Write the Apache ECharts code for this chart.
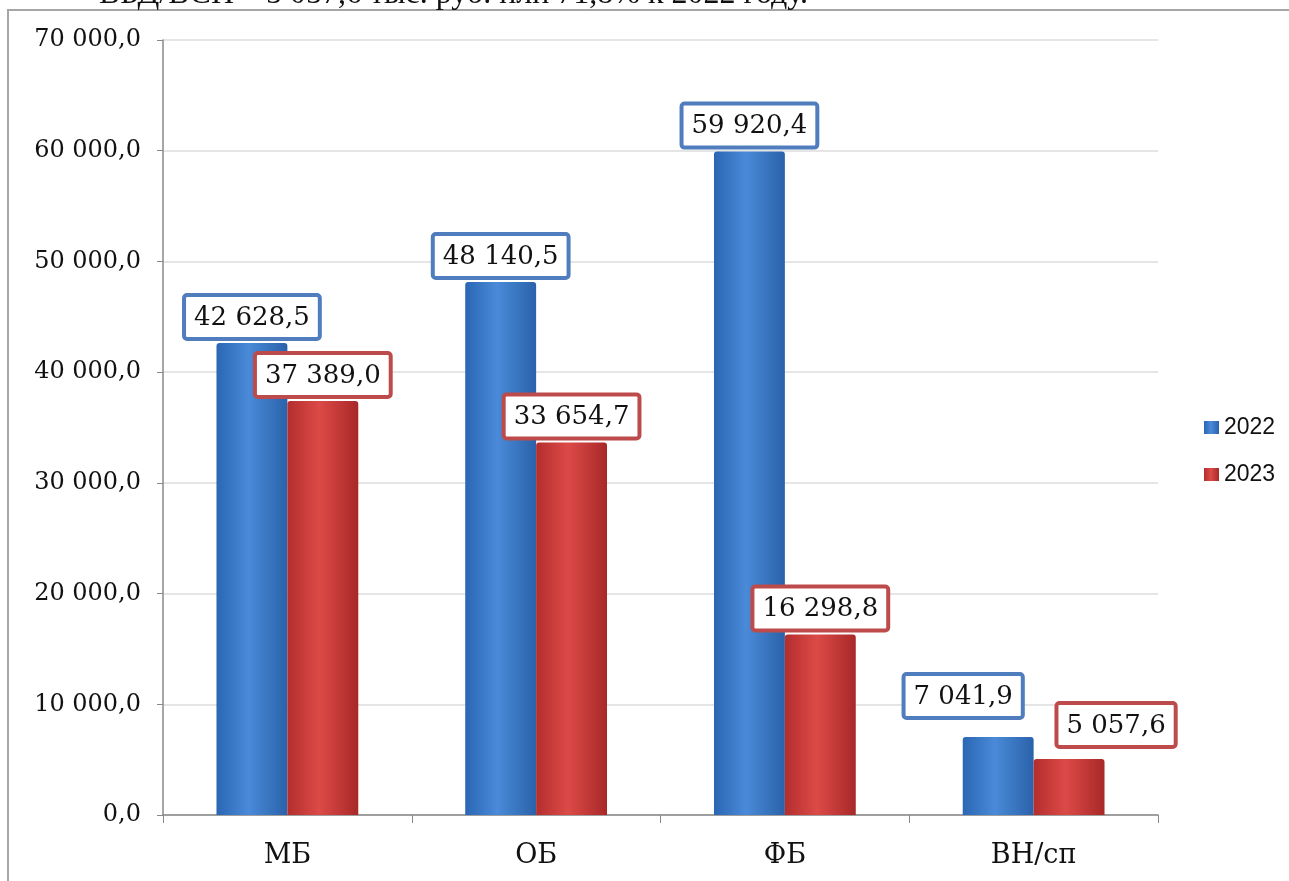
<!DOCTYPE html>
<html>
<head>
<meta charset="utf-8">
<script src="https://cdn.jsdelivr.net/npm/echarts@6/dist/echarts.min.js"></script>
<style>
html,body{margin:0;padding:0;background:#fff;}
#c{width:1289px;height:881px;}
</style>
</head>
<body>
<div id="c"></div>
<script>
const categories = ['МБ', 'ОБ', 'ФБ', 'ВН/сп'];
const seriesNames = ['2022', '2023'];
const values2022 = [42628.5, 48140.5, 59920.4, 7041.9];
const values2023 = [37389.0, 33654.7, 16298.8, 5057.6];
const yTicks = [0, 10000, 20000, 30000, 40000, 50000, 60000, 70000];
const headerText = 'ВБД/ВСП – 5 057,6 тыс. руб. или 71,8% к 2022 году.';

function fmt(v) {
  const s = Number(v).toFixed(1);
  const parts = s.split('.');
  const intPart = parts[0].replace(/\B(?=(\d{3})+(?!\d))/g, ' ');
  return intPart + ',' + parts[1];
}

const serif = '"DejaVu Serif", "Liberation Serif", serif';
const blueBorder = '#4f7dbd';
const redBorder = '#be4b4b';

function labelBase(border) {
  return {
    show: true,
    position: 'top',
    distance: 6,
    formatter: p => fmt(p.value),
    fontFamily: serif,
    fontSize: 26,
    color: '#111',
    backgroundColor: '#fff',
    borderColor: border,
    borderWidth: 4,
    borderRadius: 1,
    padding: [8, 8, 6, 8]
  };
}

const blueGrad = new echarts.graphic.LinearGradient(0, 0, 1, 0, [
  {offset: 0, color: '#2a66b3'},
  {offset: 0.45, color: '#4a8ad8'},
  {offset: 1, color: '#2a62aa'}
]);
const redGrad = new echarts.graphic.LinearGradient(0, 0, 1, 0, [
  {offset: 0, color: '#b32e2e'},
  {offset: 0.45, color: '#dc4a47'},
  {offset: 1, color: '#a82828'}
]);

const d2022 = values2022.map((v, i) => {
  const o = {value: v};
  if (i === 3) o.label = {offset: [-35, -15]};
  return o;
});
const d2023 = values2023.map((v, i) => {
  const o = {value: v};
  if (i === 3) o.label = {offset: [47, -8]};
  return o;
});

const chart = echarts.init(document.getElementById('c'));
chart.setOption({
  animation: false,
  backgroundColor: '#fff',
  graphic: [
    {type: 'rect', shape: {x: 8, y: 10, width: 1300, height: 900},
     style: {fill: 'none', stroke: '#a6a6a6', lineWidth: 2}, z: 0},
    {type: 'text', x: 99, y: 11,
     style: {text: headerText, font: '32px "Liberation Serif", serif', fill: '#111', verticalAlign: 'bottom'}}
  ],
  grid: {left: 163, right: 131, top: 40, bottom: 66},
  legend: {
    orient: 'vertical',
    left: 1199,
    top: 411,
    itemWidth: 15,
    itemHeight: 13,
    itemGap: 24,
    icon: 'rect',
    data: seriesNames,
    textStyle: {fontFamily: '"Liberation Sans", sans-serif', fontSize: 23, color: '#111'}
  },
  xAxis: {
    type: 'category',
    data: categories,
    axisLine: {lineStyle: {color: '#888', width: 1.5}},
    axisTick: {show: true, alignWithLabel: false, length: 8, lineStyle: {color: '#888'}},
    axisLabel: {fontFamily: serif, fontSize: 27, color: '#111', margin: 27}
  },
  yAxis: {
    type: 'value',
    min: 0, max: 70000, interval: 10000,
    axisLine: {show: true, lineStyle: {color: '#888', width: 1.5}},
    axisTick: {show: true, length: 6, lineStyle: {color: '#888'}},
    axisLabel: {fontFamily: serif, fontSize: 24, color: '#111', margin: 22,
      formatter: v => yTicks.indexOf(v) >= 0 ? fmt(v) : ''},
    splitLine: {lineStyle: {color: '#dcdcdc', width: 1.5}}
  },
  series: [
    {name: seriesNames[0], type: 'bar', data: d2022, barGap: '0%', barCategoryGap: '43%',
     itemStyle: {color: blueGrad, borderRadius: [3, 3, 0, 0]}, label: labelBase(blueBorder)},
    {name: seriesNames[1], type: 'bar', data: d2023,
     itemStyle: {color: redGrad, borderRadius: [3, 3, 0, 0]}, label: labelBase(redBorder)}
  ]
});
</script>
</body>
</html>
